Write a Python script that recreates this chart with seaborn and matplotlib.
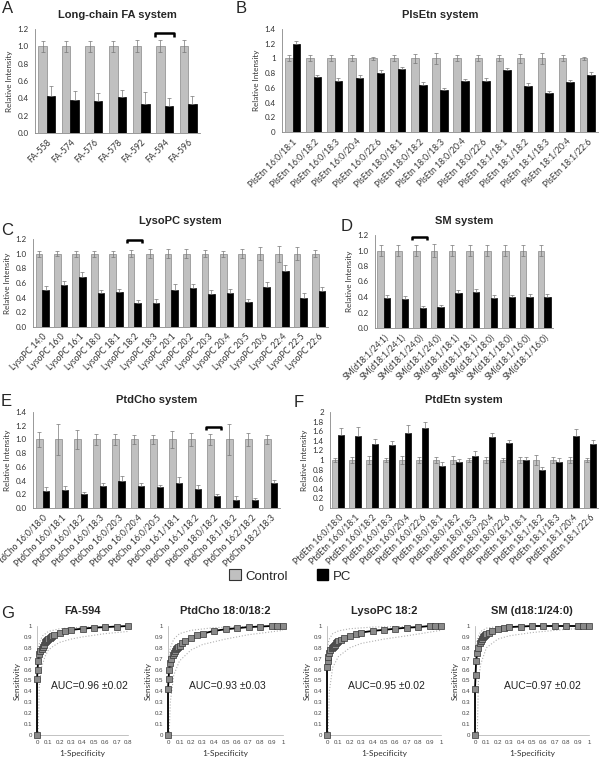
import numpy as np
import pandas as pd
import matplotlib
matplotlib.use('Agg')
import matplotlib.pyplot as plt
import matplotlib.patches as mpatches
from matplotlib.ticker import FormatStrFormatter, MultipleLocator
import seaborn as sns

# ---- panel A: long-chain FA
a_labels = ['FA-558', 'FA-574', 'FA-576', 'FA-578', 'FA-592', 'FA-594', 'FA-596']
a_ctrl = [1.0, 1.0, 1.0, 1.0, 1.0, 1.0, 1.0]
a_ctrl_err = [0.06, 0.06, 0.06, 0.06, 0.07, 0.07, 0.07]
a_pc = [0.43, 0.38, 0.37, 0.41, 0.34, 0.31, 0.34]
a_pc_err = [0.11, 0.10, 0.09, 0.09, 0.13, 0.09, 0.09]

# ---- panel B: PlsEtn
b_labels = ['PlsEtn 16:0/18:1', 'PlsEtn 16:0/18:2', 'PlsEtn 16:0/18:3', 'PlsEtn 16:0/20:4',
            'PlsEtn 16:0/22:6', 'PlsEtn 18:0/18:1', 'PlsEtn 18:0/18:2', 'PlsEtn 18:0/18:3',
            'PlsEtn 18:0/20:4', 'PlsEtn 18:0/22:6', 'PlsEtn 18:1/18:1', 'PlsEtn 18:1/18:2',
            'PlsEtn 18:1/18:3', 'PlsEtn 18:1/20:4', 'PlsEtn 18:1/22:6']
b_ctrl = [1.0] * 15
b_ctrl_err = [0.04, 0.04, 0.04, 0.04, 0.02, 0.04, 0.06, 0.08, 0.04, 0.04, 0.04, 0.06, 0.07, 0.04, 0.02]
b_pc = [1.19, 0.75, 0.70, 0.74, 0.80, 0.85, 0.64, 0.57, 0.69, 0.70, 0.84, 0.63, 0.53, 0.68, 0.77]
b_pc_err = [0.05, 0.03, 0.04, 0.03, 0.04, 0.04, 0.04, 0.03, 0.03, 0.04, 0.03, 0.04, 0.03, 0.03, 0.05]

# ---- panel C: LysoPC
c_labels = ['LysoPC 14:0', 'LysoPC 16:0', 'LysoPC 16:1', 'LysoPC 18:0', 'LysoPC 18:1',
            'LysoPC 18:2', 'LysoPC 18:3', 'LysoPC 20:1', 'LysoPC 20:2', 'LysoPC 20:3',
            'LysoPC 20:4', 'LysoPC 20:5', 'LysoPC 20:6', 'LysoPC 22:4', 'LysoPC 22:5',
            'LysoPC 22:6']
c_ctrl = [1.0] * 16
c_ctrl_err = [0.04, 0.03, 0.04, 0.04, 0.04, 0.05, 0.06, 0.06, 0.06, 0.05, 0.04, 0.06, 0.09, 0.11, 0.09, 0.05]
c_pc = [0.50, 0.57, 0.68, 0.46, 0.48, 0.33, 0.33, 0.51, 0.53, 0.45, 0.47, 0.34, 0.54, 0.76, 0.40, 0.49]
c_pc_err = [0.06, 0.06, 0.07, 0.05, 0.04, 0.04, 0.05, 0.07, 0.06, 0.05, 0.05, 0.04, 0.08, 0.09, 0.07, 0.06]

# ---- panel D: SM
d_labels = ['SM(d18:1/24:1)', 'SM(d18:1/24:1)', 'SM(d18:1/24:0)', 'SM(d18:1/24:0)',
            'SM(d18:1/18:1)', 'SM(d18:1/18:1)', 'SM(d18:1/18:0)', 'SM(d18:1/18:0)',
            'SM(d18:1/16:0)', 'SM(d18:1/16:0)']
d_ctrl = [1.0] * 10
d_ctrl_err = [0.07, 0.07, 0.07, 0.08, 0.07, 0.07, 0.07, 0.07, 0.07, 0.07]
d_pc = [0.39, 0.38, 0.26, 0.27, 0.45, 0.46, 0.39, 0.40, 0.40, 0.40]
d_pc_err = [0.04, 0.03, 0.02, 0.03, 0.04, 0.04, 0.03, 0.03, 0.04, 0.04]

# ---- panel E: PtdCho
e_labels = ['PtdCho 16:0/18:0', 'PtdCho 16:0/18:1', 'PtdCho 16:0/18:2', 'PtdCho 16:0/18:3',
            'PtdCho 16:0/20:3', 'PtdCho 16:0/20:4', 'PtdCho 16:0/20:5', 'PtdCho 16:1/18:1',
            'PtdCho 16:1/18:2', 'PtdCho 18:0/18:2', 'PtdCho 18:1/18:2', 'PtdCho 16:2/18:2',
            'PtdCho 18:2/18:3']
e_ctrl = [1.0] * 13
e_ctrl_err = [0.11, 0.22, 0.14, 0.08, 0.08, 0.07, 0.07, 0.13, 0.10, 0.08, 0.22, 0.10, 0.07]
e_pc = [0.25, 0.26, 0.20, 0.32, 0.39, 0.32, 0.30, 0.37, 0.27, 0.17, 0.12, 0.11, 0.37]
e_pc_err = [0.05, 0.06, 0.04, 0.04, 0.08, 0.04, 0.03, 0.08, 0.06, 0.04, 0.05, 0.04, 0.04]

# ---- panel F: PtdEtn
f_labels = ['PtdEtn 16:0/18:0', 'PtdEtn 16:0/18:1', 'PtdEtn 16:0/18:2', 'PtdEtn 16:0/18:3',
            'PtdEtn 16:0/20:4', 'PtdEtn 16:0/22:6', 'PtdEtn 18:0/18:1', 'PtdEtn 18:0/18:2',
            'PtdEtn 18:0/18:3', 'PtdEtn 18:0/20:4', 'PtdEtn 18:0/22:6', 'PtdEtn 18:1/18:1',
            'PtdEtn 18:1/18:2', 'PtdEtn 18:1/18:3', 'PtdEtn 18:1/20:4', 'PtdEtn 18:1/22:6']
f_ctrl = [1.0] * 16
f_ctrl_err = [0.05, 0.06, 0.08, 0.05, 0.08, 0.06, 0.07, 0.09, 0.05, 0.06, 0.04, 0.07, 0.10, 0.07, 0.07, 0.05]
f_pc = [1.53, 1.51, 1.33, 1.31, 1.57, 1.67, 0.88, 0.96, 1.09, 1.47, 1.35, 1.00, 0.80, 0.96, 1.50, 1.33]
f_pc_err = [0.13, 0.17, 0.11, 0.08, 0.16, 0.13, 0.07, 0.06, 0.09, 0.10, 0.06, 0.07, 0.06, 0.08, 0.14, 0.09]

# ---- panel G: ROC curves
roc_titles = ['FA-594', 'PtdCho 18:0/18:2', 'LysoPC 18:2', 'SM (d18:1/24:0)']
roc_auc = ['AUC=0.96 \u00b10.02', 'AUC=0.93 \u00b10.03', 'AUC=0.95 \u00b10.02', 'AUC=0.97 \u00b10.02']
roc_xmax = [0.8, 1.0, 1.0, 1.0]

fa_fpr = [0, 0, 0.005, 0.01, 0.02, 0.03, 0.04, 0.05, 0.06, 0.07, 0.08, 0.09, 0.1, 0.11, 0.12,
          0.13, 0.15, 0.2, 0.25, 0.3, 0.4, 0.5, 0.6, 0.7, 0.8]
fa_tpr = [0, 0.51, 0.60, 0.68, 0.74, 0.77, 0.79, 0.81, 0.83, 0.85, 0.86, 0.87, 0.88, 0.89, 0.90,
          0.905, 0.92, 0.94, 0.955, 0.965, 0.975, 0.985, 0.99, 0.995, 1.0]
pc_fpr = [0, 0, 0.005, 0.01, 0.02, 0.03, 0.04, 0.05, 0.06, 0.07, 0.08, 0.09, 0.1, 0.12, 0.15,
          0.2, 0.25, 0.3, 0.4, 0.5, 0.6, 0.7, 0.8, 0.9, 0.95, 1.0]
pc_tpr = [0, 0.42, 0.51, 0.60, 0.66, 0.70, 0.73, 0.75, 0.77, 0.79, 0.80, 0.81, 0.82, 0.84, 0.86,
          0.89, 0.915, 0.93, 0.955, 0.97, 0.98, 0.99, 0.995, 1.0, 1.0, 1.0]
ly_fpr = [0, 0, 0.005, 0.01, 0.02, 0.03, 0.04, 0.05, 0.06, 0.07, 0.08, 0.09, 0.1, 0.12, 0.15,
          0.2, 0.25, 0.3, 0.4, 0.5, 0.6, 0.7, 0.8, 0.9, 0.95, 1.0]
ly_tpr = [0, 0.62, 0.68, 0.72, 0.75, 0.78, 0.80, 0.81, 0.82, 0.83, 0.84, 0.85, 0.86, 0.87, 0.89,
          0.91, 0.93, 0.94, 0.955, 0.965, 0.975, 0.985, 0.99, 1.0, 1.0, 1.0]
sm_fpr = [0, 0, 0.005, 0.01, 0.02, 0.03, 0.04, 0.05, 0.06, 0.07, 0.08, 0.09, 0.1, 0.12, 0.15,
          0.2, 0.25, 0.3, 0.4, 0.5, 0.6, 0.7, 0.8, 0.9, 0.95, 1.0]
sm_tpr = [0, 0.42, 0.55, 0.68, 0.75, 0.80, 0.84, 0.86, 0.88, 0.90, 0.91, 0.92, 0.93, 0.94, 0.955,
          0.975, 0.985, 0.99, 0.995, 1.0, 1.0, 1.0, 1.0, 1.0, 1.0, 1.0]

fa_up_x = [0, 0.01, 0.03, 0.05, 0.1, 0.2, 0.4, 0.8]
fa_up_y = [0.70, 0.80, 0.87, 0.91, 0.95, 0.975, 0.99, 1.0]
fa_lo_x = [0.01, 0.02, 0.04, 0.07, 0.1, 0.15, 0.2, 0.3, 0.4, 0.6, 0.8]
fa_lo_y = [0.0, 0.45, 0.62, 0.72, 0.78, 0.82, 0.85, 0.88, 0.90, 0.93, 0.95]
pc_up_x = [0, 0.02, 0.05, 0.1, 0.2, 0.4, 0.7, 1.0]
pc_up_y = [0.62, 0.80, 0.88, 0.93, 0.96, 0.985, 0.995, 1.0]
pc_lo_x = [0.01, 0.02, 0.05, 0.1, 0.2, 0.3, 0.5, 0.7, 1.0]
pc_lo_y = [0.0, 0.30, 0.55, 0.68, 0.78, 0.83, 0.88, 0.92, 0.96]
ly_up_x = [0, 0.02, 0.05, 0.1, 0.2, 0.4, 0.7, 1.0]
ly_up_y = [0.80, 0.88, 0.93, 0.955, 0.975, 0.99, 0.997, 1.0]
ly_lo_x = [0.01, 0.02, 0.05, 0.1, 0.2, 0.3, 0.5, 0.7, 1.0]
ly_lo_y = [0.0, 0.40, 0.62, 0.72, 0.80, 0.84, 0.88, 0.91, 0.96]
sm_up_x = [0, 0.02, 0.05, 0.1, 0.2, 0.4, 1.0]
sm_up_y = [0.72, 0.88, 0.95, 0.98, 0.995, 1.0, 1.0]
sm_lo_x = [0.02, 0.03, 0.05, 0.1, 0.2, 0.3, 0.5, 0.8, 1.0]
sm_lo_y = [0.0, 0.50, 0.65, 0.80, 0.88, 0.91, 0.94, 0.97, 0.98]

sns.set_style('white')
plt.rcParams['font.family'] = ['Liberation Sans', 'DejaVu Sans']
SMALL = ['Lato', 'DejaVu Sans']   # calibri-like face for the tick texts

W, H = 600, 761
fig = plt.figure(figsize=(W / 100, H / 100), dpi=100)
GRAY = '#c0c0c0'
AXCOL = '#888888'


def px_axes(l, t, r, b):
    return fig.add_axes([l / W, 1 - b / H, (r - l) / W, (b - t) / H])


def bar_panel(rect, labels, ctrl, ctrl_err, pc, pc_err, ymax, fmt, title, tpad,
              bracket=None, bracket_y=None):
    ax = px_axes(*rect)
    df = pd.DataFrame({
        'name': list(range(len(labels))) * 2,
        'value': list(ctrl) + list(pc),
        'group': ['Control'] * len(labels) + ['PC'] * len(labels),
    })
    sns.barplot(data=df, x='name', y='value', hue='group', ax=ax,
                palette={'Control': GRAY, 'PC': 'black'}, width=0.72,
                edgecolor=AXCOL, linewidth=0.5, errorbar=None, legend=False)
    for bar in ax.containers[1]:
        bar.set_edgecolor('black')
    # error bars on top of seaborn bars
    cx = [b.get_x() + b.get_width() / 2 for b in ax.containers[0]]
    ax.errorbar(cx, ctrl, yerr=ctrl_err, fmt='none', ecolor='#777777',
                elinewidth=0.5, capsize=1.3, capthick=0.5)
    px = [b.get_x() + b.get_width() / 2 for b in ax.containers[1]]
    ax.errorbar(px, pc, yerr=[np.zeros(len(pc)), pc_err], fmt='none', ecolor='#777777',
                elinewidth=0.5, capsize=1.3, capthick=0.5)
    if bracket is not None:
        x0 = ax.containers[0][bracket].get_x() - 0.05
        x1 = ax.containers[1][bracket].get_x() + ax.containers[1][bracket].get_width() + 0.05
        drop = ymax * 0.035
        ax.plot([x0, x0, x1, x1], [bracket_y - drop, bracket_y, bracket_y, bracket_y - drop],
                color='black', lw=1.8, solid_capstyle='butt', clip_on=False)
    ax.set_xlim(-0.5, len(labels) - 0.5)
    ax.set_ylim(0, ymax)
    ax.yaxis.set_major_locator(MultipleLocator(0.2))
    if fmt:
        ax.yaxis.set_major_formatter(FormatStrFormatter(fmt))
    else:
        ax.yaxis.set_major_formatter(plt.FuncFormatter(lambda v, p: '%g' % round(v, 2)))
    ax.set_xticks(range(len(labels)))
    ax.set_xticklabels(labels, rotation=45, ha='right', rotation_mode='anchor',
                       fontsize=6.2, color='#333333', family=SMALL)
    ax.set_xticks(np.arange(-0.5, len(labels), 1.0), minor=True)
    ax.tick_params(axis='x', which='major', length=0, pad=3.5)
    ax.tick_params(axis='x', which='minor', length=3, width=0.5, color=AXCOL)
    ax.tick_params(axis='y', length=2.5, width=0.5, color=AXCOL, labelsize=5.8,
                   labelcolor='#333333', pad=2)
    for t in ax.get_yticklabels():
        t.set_family(SMALL)
    ax.set_xlabel('')
    ax.set_ylabel('Relative Intensity', fontsize=5.8, color='#333333', labelpad=3,
                  family=SMALL)
    for s in ['top', 'right']:
        ax.spines[s].set_visible(False)
    for s in ['left', 'bottom']:
        ax.spines[s].set_color(AXCOL)
        ax.spines[s].set_linewidth(0.6)
    ax.set_title(title, fontsize=8, fontweight='bold', pad=tpad)
    return ax


bar_panel((35, 29, 200, 133), a_labels, a_ctrl, a_ctrl_err, a_pc, a_pc_err, 1.2, '%.1f',
          'Long-chain FA system', 8, bracket=5, bracket_y=1.15)
bar_panel((282, 29, 598, 132), b_labels, b_ctrl, b_ctrl_err, b_pc, b_pc_err, 1.4, None,
          'PlsEtn system', 8)
bar_panel((33, 239, 328, 327), c_labels, c_ctrl, c_ctrl_err, c_pc, c_pc_err, 1.2, '%.1f',
          'LysoPC system', 11, bracket=5, bracket_y=1.19)
bar_panel((375, 235, 553, 328), d_labels, d_ctrl, d_ctrl_err, d_pc, d_pc_err, 1.2, '%.1f',
          'SM system', 8, bracket=2, bracket_y=1.18)
bar_panel((33, 412, 280, 508), e_labels, e_ctrl, e_ctrl_err, e_pc, e_pc_err, 1.4, '%.1f',
          'PtdCho system', 6.5, bracket=9, bracket_y=1.18)
bar_panel((330, 412, 598, 508), f_labels, f_ctrl, f_ctrl_err, f_pc, f_pc_err, 2.0, None,
          'PtdEtn system', 6.5)

for letter, x, y in [('A', 2, 1), ('B', 236, 1), ('C', 1, 223), ('D', 341, 219),
                     ('E', 1, 394), ('F', 294, 395), ('G', 1, 606)]:
    fig.text(x / W, 1 - y / H, letter, fontsize=12, va='top', ha='left')

handles = [mpatches.Patch(facecolor=GRAY, edgecolor='#333333', linewidth=0.8, label='Control'),
           mpatches.Patch(facecolor='black', edgecolor='black', label='PC')]
fig.legend(handles=handles, loc='center', bbox_to_anchor=(290 / W, 1 - 576 / H), ncol=2,
           frameon=False, fontsize=9.5, handlelength=0.9, handleheight=0.9,
           handletextpad=0.3, columnspacing=2.2)

roc_rects = [(37, 626, 128, 735), (168, 626, 283, 735), (327, 626, 441, 735), (475, 626, 589, 735)]
roc_text_x = [0.58, 0.52, 0.52, 0.59]
roc_curves = [(fa_fpr, fa_tpr), (pc_fpr, pc_tpr), (ly_fpr, ly_tpr), (sm_fpr, sm_tpr)]
roc_up = [(fa_up_x, fa_up_y), (pc_up_x, pc_up_y), (ly_up_x, ly_up_y), (sm_up_x, sm_up_y)]
roc_lo = [(fa_lo_x, fa_lo_y), (pc_lo_x, pc_lo_y), (ly_lo_x, ly_lo_y), (sm_lo_x, sm_lo_y)]

for i in range(4):
    ax = px_axes(*roc_rects[i])
    for bx, by in (roc_up[i], roc_lo[i]):
        sns.lineplot(x=bx, y=by, ax=ax, sort=False, estimator=None, color='#b0b0b0',
                     lw=0.8, linestyle=':')
    sns.lineplot(x=roc_curves[i][0], y=roc_curves[i][1], ax=ax, sort=False, estimator=None,
                 color='black', lw=1.3, marker='s', markersize=4.3,
                 markerfacecolor='#8a8a8a', markeredgecolor='#333333', markeredgewidth=0.5,
                 clip_on=False, zorder=3)
    ax.set_xlim(0, roc_xmax[i])
    ax.set_ylim(0, 1)
    ax.xaxis.set_major_locator(MultipleLocator(0.1))
    ax.yaxis.set_major_locator(MultipleLocator(0.1))
    fm = plt.FuncFormatter(lambda v, p: '%g' % round(v, 2))
    ax.xaxis.set_major_formatter(fm)
    ax.yaxis.set_major_formatter(fm)
    ax.tick_params(length=1.5, width=0.4, color=AXCOL, labelsize=4.4, labelcolor='#444444', pad=2)
    for s in ['top', 'right']:
        ax.spines[s].set_visible(False)
    for s in ['left', 'bottom']:
        ax.spines[s].set_color('#aaaaaa')
        ax.spines[s].set_linewidth(0.5)
    ax.set_xlabel('1-Specificity', fontsize=6, color='#333333', labelpad=4, family=SMALL)
    ax.set_ylabel('Sensitivity', fontsize=6, color='#333333', labelpad=2, family=SMALL)
    ax.set_title(roc_titles[i], fontsize=8, fontweight='bold', pad=9)
    ax.text(roc_text_x[i], 0.45, roc_auc[i], transform=ax.transAxes, ha='center',
            va='center', fontsize=7.5, color='#222222')

fig.savefig('out.png', dpi=100, facecolor='white')
